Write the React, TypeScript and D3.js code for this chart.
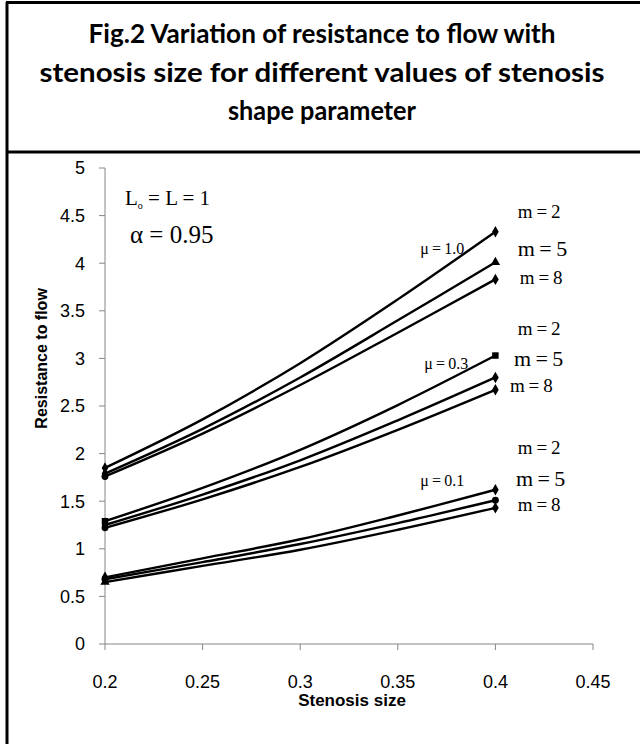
import React from "react";
import * as d3 from "d3";

const xValues = [0.2, 0.25, 0.3, 0.35, 0.4];
// resistance to flow, per mu group and m
const mu10_m2 = [1.85, 2.36, 2.95, 3.62, 4.33];
const mu10_m5 = [1.79, 2.26, 2.8, 3.4, 4.01];
const mu10_m8 = [1.76, 2.21, 2.72, 3.27, 3.83];
const mu03_m2 = [1.29, 1.64, 2.04, 2.51, 3.03];
const mu03_m5 = [1.25, 1.57, 1.93, 2.35, 2.8];
const mu03_m8 = [1.22, 1.52, 1.86, 2.25, 2.67];
const mu01_m2 = [0.7, 0.9, 1.1, 1.35, 1.62];
const mu01_m5 = [0.68, 0.86, 1.05, 1.27, 1.51];
const mu01_m8 = [0.65, 0.82, 0.99, 1.2, 1.43];

const xTicks = [0.2, 0.25, 0.3, 0.35, 0.4, 0.45];
const yTicks = [0, 0.5, 1, 1.5, 2, 2.5, 3, 3.5, 4, 4.5, 5];

const titleLines = [
  "Fig.2 Variation of resistance to flow with",
  "stenosis size for different values of stenosis",
  "shape parameter",
];

type Series = { vals: number[]; startSym: string; endSym: string };
const series: Series[] = [
  { vals: mu10_m2, startSym: "diamond", endSym: "diamond" },
  { vals: mu10_m5, startSym: "diamond", endSym: "triangle" },
  { vals: mu10_m8, startSym: "circle", endSym: "diamond" },
  { vals: mu03_m2, startSym: "square", endSym: "square" },
  { vals: mu03_m5, startSym: "diamond", endSym: "diamond" },
  { vals: mu03_m8, startSym: "circle", endSym: "diamond" },
  { vals: mu01_m2, startSym: "diamond", endSym: "diamond" },
  { vals: mu01_m5, startSym: "circle", endSym: "circle" },
  { vals: mu01_m8, startSym: "triangle", endSym: "diamond" },
];

const muLabels = [
  { text: "\u03bc\u2009=\u20091.0", x: 0.3615, y: 4.16 },
  { text: "\u03bc\u2009=\u20090.3", x: 0.3635, y: 2.95 },
  { text: "\u03bc\u2009=\u20090.1", x: 0.3615, y: 1.72 },
];
const mLabels = [
  { text: "m\u2009=\u20092", x: 0.4115, y: 4.54, big: false },
  { text: "m\u2009=\u20095", x: 0.4115, y: 4.16, big: true },
  { text: "m\u2009=\u20098", x: 0.4125, y: 3.85, big: false },
  { text: "m\u2009=\u20092", x: 0.4115, y: 3.32, big: false },
  { text: "m\u2009=\u20095", x: 0.4095, y: 3.0, big: true },
  { text: "m\u2009=\u20098", x: 0.4075, y: 2.72, big: false },
  { text: "m\u2009=\u20092", x: 0.4115, y: 2.07, big: false },
  { text: "m\u2009=\u20095", x: 0.4105, y: 1.74, big: true },
  { text: "m\u2009=\u20098", x: 0.4115, y: 1.47, big: false },
];

const symMap: Record<string, d3.SymbolType> = {
  diamond: d3.symbolDiamond,
  triangle: d3.symbolTriangle,
  square: d3.symbolSquare,
  circle: d3.symbolCircle,
};

export default function App() {
  const x0 = 105;
  const x1 = 593;
  const yTop = 168;
  const yBot = 644;
  const x = d3.scaleLinear().domain([0.2, 0.45]).range([x0, x1]);
  const y = d3.scaleLinear().domain([0, 5]).range([yBot, yTop]);
  const line = d3
    .line<number>()
    .x((_, i) => x(xValues[i]))
    .y((d) => y(d))
    .curve(d3.curveCatmullRom.alpha(0.5));
  const sym = (t: string) => d3.symbol().type(symMap[t]).size(t === "square" ? 42 : 38)();
  const serif = "'Liberation Serif', 'Times New Roman', serif";
  const sans = "'Liberation Sans', Arial, sans-serif";

  return (
    <svg
      width={640}
      height={744}
      style={{ position: "absolute", left: 0, top: 0, background: "#fff" }}
    >
      <rect x={0} y={0} width={640} height={744} fill="#fff" />
      {/* outer frame */}
      <line x1={7} y1={2} x2={7} y2={744} stroke="#000" strokeWidth={3} />
      <line x1={6} y1={2.5} x2={640} y2={2.5} stroke="#000" strokeWidth={3} />
      <line x1={6} y1={152} x2={640} y2={152} stroke="#000" strokeWidth={3} />
      {/* title */}
      {titleLines.map((t, i) => (
        <text
          key={i}
          x={322}
          y={[43, 82, 120][i]}
          textAnchor="middle"
          fontFamily="Lato, 'Open Sans', sans-serif"
          fontWeight="bold"
          fontSize={27}
          textLength={[467, 565, 188][i]}
          lengthAdjust="spacingAndGlyphs"
          fill="#000"
        >
          {t}
        </text>
      ))}
      {/* axes */}
      <line x1={x0} y1={y(5)} x2={x0} y2={yBot} stroke="#868686" strokeWidth={1} />
      <line x1={x0} y1={yBot} x2={x1} y2={yBot} stroke="#868686" strokeWidth={1} />
      {yTicks.map((t) => (
        <g key={"y" + t}>
          <line x1={x0 - 6} x2={x0} y1={y(t)} y2={y(t)} stroke="#868686" />
          <text
            x={x0 - 20}
            y={y(t)}
            dy="0.35em"
            textAnchor="end"
            fontFamily={sans}
            fontSize={18}
          >
            {t}
          </text>
        </g>
      ))}
      {xTicks.map((t) => (
        <g key={"x" + t}>
          <line x1={x(t)} x2={x(t)} y1={yBot} y2={yBot + 6} stroke="#868686" />
          <text
            x={x(t)}
            y={682}
            dy="0.35em"
            textAnchor="middle"
            fontFamily={sans}
            fontSize={18}
          >
            {t}
          </text>
        </g>
      ))}
      <text
        x={352}
        y={700}
        dy="0.35em"
        textAnchor="middle"
        fontFamily={sans}
        fontWeight="bold"
        fontSize={17}
      >
        Stenosis size
      </text>
      <text
        transform={`translate(41,${y(3)}) rotate(-90)`}
        textAnchor="middle"
        dy="0.35em"
        fontFamily={sans}
        fontWeight="bold"
        fontSize={16}
      >
        Resistance to flow
      </text>
      {/* series */}
      {series.map((s, i) => (
        <g key={"s" + i}>
          <path d={line(s.vals) || ""} fill="none" stroke="#000" strokeWidth={2.4} />
          <path
            d={sym(s.startSym) || ""}
            transform={`translate(${x(xValues[0])},${y(s.vals[0])})`}
            fill="#000"
          />
          <path
            d={sym(s.endSym) || ""}
            transform={`translate(${x(xValues[xValues.length - 1])},${y(
              s.vals[s.vals.length - 1]
            )})`}
            fill="#000"
          />
        </g>
      ))}
      {/* annotations */}
      <text x={125} y={205} fontFamily={serif} fontSize={21}>
        L<tspan fontSize={10} dy={4}>o</tspan>
        <tspan dy={-4}>{" = L = 1"}</tspan>
      </text>
      <text x={130} y={243} fontFamily={serif} fontSize={25}>
        {"\u03b1 = 0.95"}
      </text>
      {muLabels.map((l, i) => (
        <text
          key={"mu" + i}
          x={x(l.x)}
          y={y(l.y)}
          dy="0.35em"
          fontFamily={serif}
          fontSize={17}
          textLength={44}
          lengthAdjust="spacingAndGlyphs"
        >
          {l.text}
        </text>
      ))}
      {mLabels.map((l, i) => (
        <text
          key={"m" + i}
          x={x(l.x)}
          y={y(l.y)}
          dy="0.35em"
          fontFamily={serif}
          fontSize={l.big ? 22 : 19}
        >
          {l.text}
        </text>
      ))}
    </svg>
  );
}
